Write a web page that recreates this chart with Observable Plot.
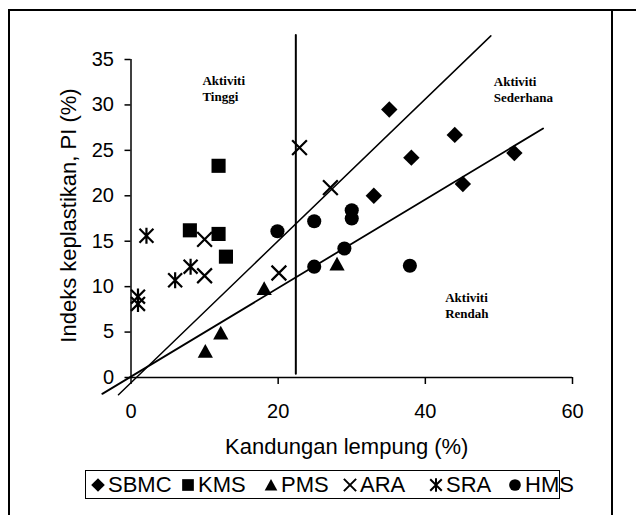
<!DOCTYPE html>
<html><head><meta charset="utf-8">
<script src="https://cdn.jsdelivr.net/npm/d3@7"></script>
<script src="https://cdn.jsdelivr.net/npm/@observablehq/plot@0.6"></script>
<style>
html,body{margin:0;padding:0;background:#fff;}
#wrap{position:relative;width:636px;height:515px;overflow:hidden;background:#fff;font-family:"Liberation Sans",Arial,sans-serif;}
.ln{position:absolute;background:#000;}
#legend{position:absolute;left:85px;top:470px;width:475px;height:29px;border:1.5px solid #000;box-sizing:border-box;font-size:22px;color:#000;}
.item{position:absolute;top:0;height:100%;display:flex;align-items:center;line-height:1;}
.item svg{margin-right:2px;overflow:visible}
</style></head><body><div id="wrap"></div>
<script>
// ---- data ----
const sbmcX = [35.1, 44.0, 38.1, 52.1, 45.1, 33.0];
const sbmcY = [29.5, 26.7, 24.2, 24.7, 21.3, 20.0];
const kmsX = [11.9, 8.0, 11.9, 12.9];
const kmsY = [23.3, 16.2, 15.8, 13.3];
const pmsX = [10.1, 12.2, 18.1, 28.0];
const pmsY = [2.9, 4.9, 9.8, 12.5];
const araX = [10.0, 10.0, 20.1, 22.9, 27.1];
const araY = [15.2, 11.2, 11.5, 25.3, 20.9];
const sraX = [2.1, 8.1, 6.0, 0.95, 0.95];
const sraY = [15.6, 12.2, 10.7, 8.9, 8.1];
const hmsX = [19.9, 24.9, 30.0, 30.0, 24.9, 29.0, 37.9];
const hmsY = [16.1, 17.2, 18.4, 17.5, 12.2, 14.2, 12.3];

// boundary lines (end points)
const upperLineX = [-1.7, 48.9];
const upperLineY = [-1.9, 37.6];
const lowerLineX = [-3.9, 56.0];
const lowerLineY = [-1.8, 27.4];
const dividerX = [22.4, 22.4];
const dividerY = [0.4, 37.7];

const zoneLabels = ["Aktiviti\nTinggi", "Aktiviti\nSederhana", "Aktiviti\nRendah"];
const zoneX = [9.7, 49.3, 42.7];
const zoneY = [33.5, 33.4, 9.6];

const xTicks = [0, 20, 40, 60];
const yTicks = [0, 5, 10, 15, 20, 25, 30, 35];
const xTitle = "Kandungan lempung (%)";
const yTitle = "Indeks keplastikan, PI (%)";
const seriesNames = ["SBMC", "KMS", "PMS", "ARA", "SRA", "HMS"];

// ---- symbols ----
const R = s => Math.sqrt(s / Math.PI);
const symDiamond = {draw(c, s){const r=R(s); c.moveTo(0,-r); c.lineTo(r,0); c.lineTo(0,r); c.lineTo(-r,0); c.closePath();}};
const symSquare = {draw(c, s){const h=R(s)*0.86; c.moveTo(-h,-h); c.lineTo(h,-h); c.lineTo(h,h); c.lineTo(-h,h); c.closePath();}};
const symTriangle = {draw(c, s){const r=R(s); c.moveTo(0,-0.88*r); c.lineTo(0.93*r,0.8*r); c.lineTo(-0.93*r,0.8*r); c.closePath();}};
const symCircle = {draw(c, s){const r=R(s)*0.86; c.moveTo(r,0); c.arc(0,0,r,0,2*Math.PI);}};
const symTimes = {draw(c, s){const r=R(s)*0.9; c.moveTo(-r,-r); c.lineTo(r,r); c.moveTo(r,-r); c.lineTo(-r,r);}};
const symStar = {draw(c, s){const r=R(s)*0.85; c.moveTo(-r,-r); c.lineTo(r,r); c.moveTo(r,-r); c.lineTo(-r,r); c.moveTo(0,-r*1.15); c.lineTo(0,r*1.15);}};
const symbols = [symDiamond, symSquare, symTriangle, symTimes, symStar, symCircle];
const filled = [true, true, true, false, false, true];

const rows = (xs, ys) => xs.map((x, i) => ({x, y: ys[i]}));
const seriesData = [rows(sbmcX,sbmcY), rows(kmsX,kmsY), rows(pmsX,pmsY), rows(araX,araY), rows(sraX,sraY), rows(hmsX,hmsY)];

const dotMarks = seriesData.map((d, i) => filled[i]
  ? Plot.dot(d, {x: "x", y: "y", r: 8.2, symbol: symbols[i], fill: "black", stroke: "none"})
  : Plot.dot(d, {x: "x", y: "y", r: 8.2, symbol: symbols[i], fill: "none", stroke: "black", strokeWidth: 2.2}));

const chart = Plot.plot({
  width: 636,
  height: 470,
  marginLeft: 130.5,
  marginRight: 64,
  marginTop: 59,
  marginBottom: 93,
  style: {fontFamily: "'Liberation Sans', Arial, sans-serif", background: "transparent", color: "black"},
  x: {domain: [0, 60]},
  y: {domain: [0, 35]},
  marks: [
    Plot.axisX({ticks: xTicks, tickSize: 7, tickPadding: 19, fontSize: 20, strokeWidth: 1.5, label: null}),
    Plot.axisY({ticks: yTicks, tickSize: 6, tickPadding: 11, fontSize: 20, strokeWidth: 1.5, label: null}),
    Plot.ruleY([0], {x1: 0, x2: 60, strokeWidth: 1.5}),
    Plot.ruleX([0], {y1: 0, y2: 35, strokeWidth: 1.5}),
    Plot.line(rows(dividerX, dividerY), {x: "x", y: "y", stroke: "black", strokeWidth: 2}),
    Plot.line(rows(upperLineX, upperLineY), {x: "x", y: "y", stroke: "black", strokeWidth: 1.5}),
    Plot.line(rows(lowerLineX, lowerLineY), {x: "x", y: "y", stroke: "black", strokeWidth: 1.8}),
    ...dotMarks,
    Plot.text(zoneLabels, {x: (d, i) => zoneX[i], y: (d, i) => zoneY[i], text: d => d, textAnchor: "start", lineAnchor: "top", lineHeight: 1.25, fontSize: 13, fontWeight: "bold", fontFamily: "'Liberation Serif', 'Times New Roman', serif"}),
    Plot.text([xTitle], {frameAnchor: "bottom", dx: -5, dy: 61, textAnchor: "middle", lineAnchor: "top", fontSize: 22}),
    Plot.text([yTitle], {frameAnchor: "left", dx: -62, dy: -3, rotate: -90, textAnchor: "middle", lineAnchor: "middle", fontSize: 22})
  ]
});

const wrap = document.getElementById("wrap");
chart.style.position = "absolute";
chart.style.left = "0px";
chart.style.top = "0px";
wrap.appendChild(chart);

// legend
const legend = document.createElement("div");
legend.id = "legend";
const itemLeft = [4, 94, 177, 256, 342, 421];
seriesNames.forEach((name, i) => {
  const it = document.createElement("div");
  it.className = "item";
  it.style.left = itemLeft[i] + "px";
  const size = Math.PI * 6.8 * 6.8;
  const p = d3.symbol(symbols[i], size)();
  const attrs = filled[i] ? 'fill="black"' : 'fill="none" stroke="black" stroke-width="2"';
  it.innerHTML = `<svg width="16" height="16" viewBox="-8 -8 16 16"><path d="${p}" ${attrs}/></svg><span>${name}</span>`;
  legend.appendChild(it);
});
wrap.appendChild(legend);

// outer frame of the figure
const lines = [
  {left: 8, top: 9, width: 628, height: 2},
  {left: 8, top: 9, width: 2, height: 506},
  {left: 611, top: 9, width: 2, height: 506}
];
lines.forEach(s => {
  const d = document.createElement("div");
  d.className = "ln";
  Object.assign(d.style, {left: s.left + "px", top: s.top + "px", width: s.width + "px", height: s.height + "px"});
  wrap.appendChild(d);
});
</script></body></html>
